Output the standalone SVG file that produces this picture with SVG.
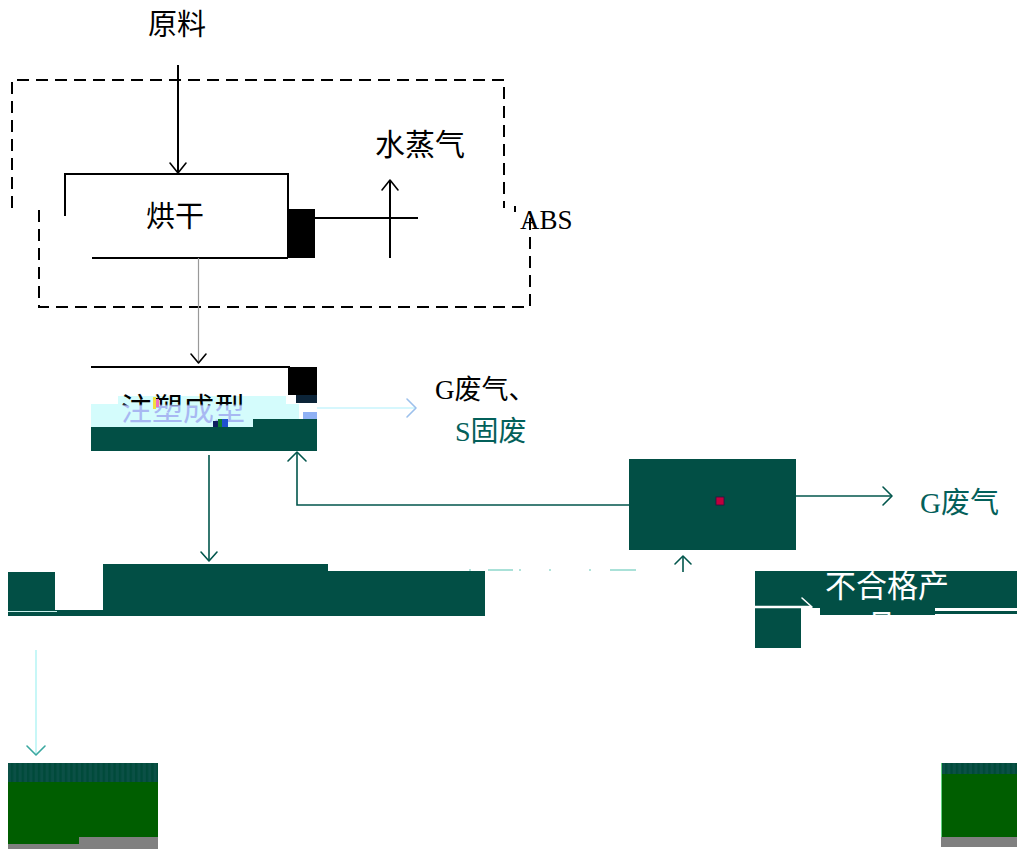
<svg xmlns="http://www.w3.org/2000/svg" width="1017" height="849" viewBox="0 0 1017 849">
<style>
.t{font-family:"Liberation Serif","Noto Sans CJK SC",serif}
.blk{stroke:#000;stroke-width:2;fill:none}
.dash{stroke:#000;stroke-width:2;stroke-dasharray:12 7;fill:none}
.dk{fill:#024f45}
.tl{stroke:#02564c;stroke-width:1.6;fill:none}
.ar{stroke-width:1.6;fill:none;stroke-linecap:round;stroke-linejoin:round}
.gr{fill:#005e00}
.gy{fill:#808080}
</style>
<defs>
<clipPath id="c1"><rect x="91" y="392" width="200" height="35"/></clipPath>
<clipPath id="c3"><rect x="500" y="208" width="120" height="30"/></clipPath>
<linearGradient id="split" gradientUnits="userSpaceOnUse" x1="0" y1="404" x2="0" y2="406">
<stop offset="0" stop-color="#000"/><stop offset="1" stop-color="#a8b8f2"/>
</linearGradient>
<pattern id="stripe" width="5.4" height="20" patternUnits="userSpaceOnUse">
<rect width="5.4" height="20" fill="#0b5046"/><rect width="2.4" height="20" fill="#004a3a"/>
</pattern>
</defs>
<rect width="1017" height="849" fill="#fff"/>

<g id="frame">
<path class="dash" d="M12,208 V80 H504 V208"/>
<path class="dash" d="M39,210 V307 H530 V214"/>
</g>

<g id="raw">
<text class="t" x="148" y="35" font-size="29">原料</text>
</g>

<g id="dry">
<path class="blk" d="M65,216 V174 H288 V258 M92,258 H288"/>
<rect x="288" y="209" width="27" height="49" fill="#000"/>
<text class="t" x="146" y="227" font-size="29">烘干</text>
</g>

<g id="steam">
<text class="t" x="375" y="155" font-size="30">水蒸气</text>
</g>

<g id="abs">
<text class="t" x="520" y="229" font-size="27" clip-path="url(#c3)">ABS</text>
<rect x="514" y="206" width="2" height="6" fill="#000"/>
</g>

<g id="mold">
<path class="blk" d="M91,367 H290"/>
<rect x="288" y="367" width="29" height="28" fill="#000"/>
<rect x="296" y="395" width="21" height="8" fill="#0c2438"/>
<rect x="118" y="396" width="168" height="8" fill="#d4fcfc"/>
<rect x="91" y="404" width="208" height="23" fill="#d4fcfc"/>
<rect x="303" y="412" width="14" height="7" fill="#8fb0f4"/>
<text class="t" x="121" y="420" font-size="31" fill="url(#split)" clip-path="url(#c1)">注塑成型</text>
<rect x="253" y="419" width="64" height="8" class="dk"/>
<rect x="91" y="427" width="226" height="24" class="dk"/>
<rect x="153" y="397" width="3" height="12" fill="#f0e040"/>
<rect x="156" y="399" width="3" height="8" fill="#f070c0"/>
<rect x="213" y="421" width="5" height="6" fill="#102060"/>
<rect x="218" y="419" width="4" height="8" fill="#108030"/>
<rect x="222" y="419" width="6" height="8" fill="#2050d0"/>
</g>

<g id="waste1">
<text class="t" x="435" y="399" font-size="27" fill="#000">G废气、</text>
<text class="t" x="455" y="441" font-size="28" fill="#03605a">S固废</text>
</g>

<g id="crush">
<rect x="629" y="459" width="167" height="91" class="dk"/>
<rect x="716" y="497" width="8" height="8" fill="#c0003c" stroke="#301040" stroke-width="0.8"/>
</g>

<g id="waste2">
<text class="t" x="920" y="513" font-size="29" fill="#03605a">G废气</text>
</g>

<g id="product">
<rect x="8" y="572" width="47" height="39" class="dk"/>
<rect x="103" y="564" width="225" height="52" class="dk"/>
<rect x="327" y="571" width="158" height="45" class="dk"/>
<rect x="8" y="612" width="477" height="4" class="dk"/>
<rect x="55" y="610" width="48" height="6" class="dk"/>
<path d="M8,611.5 H57" stroke="#c8f0ec" stroke-width="1"/>
<path d="M470,569 v2 M488,570 H513 M520,569 v2 M550,569 v2 M590,569 v2 M610,570 H636" stroke="#8fd8cc" stroke-width="1.4"/>
</g>

<g id="reject">
<rect x="755" y="571" width="262" height="37" class="dk"/>
<rect x="755" y="606" width="46" height="42" class="dk"/>
<rect x="820" y="606" width="115" height="9" class="dk"/>
<rect x="935" y="611" width="82" height="3" class="dk"/>
<text class="t" x="825" y="597" font-size="31" fill="#fff">不合格产</text>
<text class="t" x="866" y="637" font-size="31" fill="#fff">品</text>
</g>

<g id="package">
<rect x="8" y="763" width="150" height="19" fill="url(#stripe)"/>
<rect x="8" y="782" width="150" height="55" class="gr"/>
<rect x="8" y="837" width="71" height="7" class="gr"/>
<rect x="79" y="837" width="79" height="12" class="gy"/>
<rect x="8" y="844" width="71" height="5" class="gy"/>
<rect x="941" y="763" width="76" height="11" fill="url(#stripe)"/>
<rect x="941" y="774" width="76" height="63" class="gr"/>
<rect x="941" y="837" width="76" height="10" class="gy"/>
<path d="M941.5,763 V837" stroke="#60d080" stroke-width="1"/>
</g>

<g id="connectors">
<path class="blk" d="M178,65 V173" stroke-width="1.6"/>
<path class="ar" stroke="#000" d="M170,163 L178,173 L186,163"/>
<path d="M315,218 H418" stroke="#000" stroke-width="2"/>
<path d="M390,258 V180" stroke="#000" stroke-width="2"/>
<path class="ar" stroke="#000" d="M382,190 L390,180 L398,190"/>
<path d="M198.5,258 V362" stroke="#999" stroke-width="1.2"/>
<path class="ar" stroke="#000" d="M191,354 L198.5,363 L206,354"/>
<path d="M317,408 H416" stroke="#c8f4fc" stroke-width="1.4"/>
<path class="ar" stroke="#9cc0ec" d="M407,399 L416,408 L407,417"/>
<path class="tl" d="M209,455 V561"/>
<path class="ar" stroke="#02564c" d="M201,552 L209,561 L217,552"/>
<path class="tl" d="M629,505 H297 V453"/>
<path class="ar" stroke="#02564c" d="M288,461 L297,452 L306,461"/>
<path class="tl" d="M796,496 H892"/>
<path class="ar" stroke="#02564c" d="M883,487 L892,496 L883,505"/>
<path class="tl" d="M683,572 V556"/>
<path class="ar" stroke="#02564c" d="M675,564 L683,556 L691,564"/>
<path d="M755,607 H811" stroke="#fff" stroke-width="2.5"/>
<path class="ar" stroke="#fff" stroke-width="2.2" d="M802,598 L812,607 L802,616"/>
<path d="M935,609.5 H1017" stroke="#fff" stroke-width="2.5"/>
<path d="M36,650 V754" stroke="#b0f4f4" stroke-width="1.4"/>
<path class="ar" stroke="#3aa8a0" d="M27,746 L36,755 L45,746"/>
</g>
</svg>
